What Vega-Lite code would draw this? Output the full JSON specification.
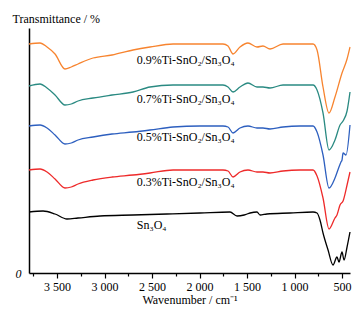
{
  "$schema": "https://vega.github.io/schema/vega-lite/v6.json",
  "width": 321,
  "height": 245,
  "autosize": "none",
  "padding": {"left": 29, "top": 28, "right": 13, "bottom": 44},
  "background": "white",
  "config": {"view": {"stroke": null}, "font": "Liberation Serif"},
  "datasets": {
    "spectra": [
      {"s": "0.9", "wn": 3795, "t": 229}, {"s": "0.9", "wn": 3679, "t": 230}, {"s": "0.9", "wn": 3605, "t": 226}, {"s": "0.9", "wn": 3521, "t": 219}, {"s": "0.9", "wn": 3416, "t": 204}, {"s": "0.9", "wn": 3350, "t": 206}, {"s": "0.9", "wn": 3279, "t": 209}, {"s": "0.9", "wn": 3121, "t": 215}, {"s": "0.9", "wn": 2921, "t": 218}, {"s": "0.9", "wn": 2700, "t": 223}, {"s": "0.9", "wn": 2521, "t": 226}, {"s": "0.9", "wn": 2279, "t": 229}, {"s": "0.9", "wn": 1995, "t": 229}, {"s": "0.9", "wn": 1753, "t": 229}, {"s": "0.9", "wn": 1700, "t": 227}, {"s": "0.9", "wn": 1647, "t": 219}, {"s": "0.9", "wn": 1574, "t": 226}, {"s": "0.9", "wn": 1490, "t": 230}, {"s": "0.9", "wn": 1395, "t": 226}, {"s": "0.9", "wn": 1332, "t": 227}, {"s": "0.9", "wn": 1258, "t": 224}, {"s": "0.9", "wn": 1121, "t": 229}, {"s": "0.9", "wn": 942, "t": 229}, {"s": "0.9", "wn": 805, "t": 229}, {"s": "0.9", "wn": 763, "t": 223}, {"s": "0.9", "wn": 700, "t": 186}, {"s": "0.9", "wn": 637, "t": 160}, {"s": "0.9", "wn": 574, "t": 176}, {"s": "0.9", "wn": 500, "t": 200}, {"s": "0.9", "wn": 447, "t": 214}, {"s": "0.9", "wn": 416, "t": 226},

      {"s": "0.7", "wn": 3795, "t": 187}, {"s": "0.7", "wn": 3679, "t": 189}, {"s": "0.7", "wn": 3605, "t": 185}, {"s": "0.7", "wn": 3521, "t": 178}, {"s": "0.7", "wn": 3416, "t": 168}, {"s": "0.7", "wn": 3350, "t": 169}, {"s": "0.7", "wn": 3279, "t": 172}, {"s": "0.7", "wn": 3121, "t": 175}, {"s": "0.7", "wn": 2921, "t": 178}, {"s": "0.7", "wn": 2700, "t": 181}, {"s": "0.7", "wn": 2521, "t": 186}, {"s": "0.7", "wn": 2279, "t": 188}, {"s": "0.7", "wn": 1995, "t": 188}, {"s": "0.7", "wn": 1753, "t": 188}, {"s": "0.7", "wn": 1700, "t": 186}, {"s": "0.7", "wn": 1647, "t": 181}, {"s": "0.7", "wn": 1574, "t": 186}, {"s": "0.7", "wn": 1490, "t": 190}, {"s": "0.7", "wn": 1395, "t": 186}, {"s": "0.7", "wn": 1332, "t": 186}, {"s": "0.7", "wn": 1258, "t": 185}, {"s": "0.7", "wn": 1121, "t": 188}, {"s": "0.7", "wn": 942, "t": 188}, {"s": "0.7", "wn": 805, "t": 188}, {"s": "0.7", "wn": 763, "t": 183}, {"s": "0.7", "wn": 700, "t": 160}, {"s": "0.7", "wn": 637, "t": 123}, {"s": "0.7", "wn": 574, "t": 133}, {"s": "0.7", "wn": 521, "t": 148}, {"s": "0.7", "wn": 489, "t": 152}, {"s": "0.7", "wn": 447, "t": 162}, {"s": "0.7", "wn": 416, "t": 181},

      {"s": "0.5", "wn": 3795, "t": 147}, {"s": "0.5", "wn": 3679, "t": 148}, {"s": "0.5", "wn": 3605, "t": 145}, {"s": "0.5", "wn": 3521, "t": 138}, {"s": "0.5", "wn": 3416, "t": 129}, {"s": "0.5", "wn": 3350, "t": 130}, {"s": "0.5", "wn": 3279, "t": 133}, {"s": "0.5", "wn": 3121, "t": 136}, {"s": "0.5", "wn": 2921, "t": 139}, {"s": "0.5", "wn": 2700, "t": 141}, {"s": "0.5", "wn": 2521, "t": 143}, {"s": "0.5", "wn": 2279, "t": 146}, {"s": "0.5", "wn": 1995, "t": 147}, {"s": "0.5", "wn": 1753, "t": 147}, {"s": "0.5", "wn": 1700, "t": 146}, {"s": "0.5", "wn": 1647, "t": 140}, {"s": "0.5", "wn": 1574, "t": 145}, {"s": "0.5", "wn": 1490, "t": 147}, {"s": "0.5", "wn": 1395, "t": 145}, {"s": "0.5", "wn": 1332, "t": 145}, {"s": "0.5", "wn": 1258, "t": 144}, {"s": "0.5", "wn": 1121, "t": 146}, {"s": "0.5", "wn": 942, "t": 147}, {"s": "0.5", "wn": 805, "t": 147}, {"s": "0.5", "wn": 763, "t": 141}, {"s": "0.5", "wn": 700, "t": 118}, {"s": "0.5", "wn": 637, "t": 85}, {"s": "0.5", "wn": 574, "t": 95}, {"s": "0.5", "wn": 532, "t": 106}, {"s": "0.5", "wn": 511, "t": 111}, {"s": "0.5", "wn": 500, "t": 113}, {"s": "0.5", "wn": 489, "t": 120}, {"s": "0.5", "wn": 458, "t": 118}, {"s": "0.5", "wn": 416, "t": 148},

      {"s": "0.3", "wn": 3795, "t": 103}, {"s": "0.3", "wn": 3679, "t": 104}, {"s": "0.3", "wn": 3605, "t": 101}, {"s": "0.3", "wn": 3521, "t": 94}, {"s": "0.3", "wn": 3416, "t": 85}, {"s": "0.3", "wn": 3350, "t": 86}, {"s": "0.3", "wn": 3279, "t": 89}, {"s": "0.3", "wn": 3121, "t": 93}, {"s": "0.3", "wn": 2921, "t": 96}, {"s": "0.3", "wn": 2700, "t": 98}, {"s": "0.3", "wn": 2521, "t": 100}, {"s": "0.3", "wn": 2279, "t": 103}, {"s": "0.3", "wn": 1995, "t": 103}, {"s": "0.3", "wn": 1753, "t": 103}, {"s": "0.3", "wn": 1700, "t": 102}, {"s": "0.3", "wn": 1647, "t": 96}, {"s": "0.3", "wn": 1574, "t": 101}, {"s": "0.3", "wn": 1490, "t": 103}, {"s": "0.3", "wn": 1395, "t": 101}, {"s": "0.3", "wn": 1332, "t": 101}, {"s": "0.3", "wn": 1258, "t": 100}, {"s": "0.3", "wn": 1121, "t": 102}, {"s": "0.3", "wn": 942, "t": 103}, {"s": "0.3", "wn": 805, "t": 103}, {"s": "0.3", "wn": 763, "t": 97}, {"s": "0.3", "wn": 700, "t": 75}, {"s": "0.3", "wn": 637, "t": 44}, {"s": "0.3", "wn": 574, "t": 55}, {"s": "0.3", "wn": 553, "t": 58}, {"s": "0.3", "wn": 521, "t": 68}, {"s": "0.3", "wn": 489, "t": 72}, {"s": "0.3", "wn": 447, "t": 88}, {"s": "0.3", "wn": 416, "t": 101},

      {"s": "0", "wn": 3795, "t": 61}, {"s": "0", "wn": 3647, "t": 62}, {"s": "0", "wn": 3521, "t": 59}, {"s": "0", "wn": 3395, "t": 54}, {"s": "0", "wn": 3279, "t": 55}, {"s": "0", "wn": 3047, "t": 57}, {"s": "0", "wn": 2700, "t": 58}, {"s": "0", "wn": 2342, "t": 59}, {"s": "0", "wn": 1995, "t": 60}, {"s": "0", "wn": 1679, "t": 61}, {"s": "0", "wn": 1605, "t": 57}, {"s": "0", "wn": 1530, "t": 58}, {"s": "0", "wn": 1468, "t": 60}, {"s": "0", "wn": 1395, "t": 61}, {"s": "0", "wn": 1363, "t": 58}, {"s": "0", "wn": 1290, "t": 59}, {"s": "0", "wn": 1047, "t": 60}, {"s": "0", "wn": 805, "t": 61}, {"s": "0", "wn": 763, "t": 60}, {"s": "0", "wn": 732, "t": 53}, {"s": "0", "wn": 700, "t": 40}, {"s": "0", "wn": 647, "t": 23}, {"s": "0", "wn": 595, "t": 8}, {"s": "0", "wn": 553, "t": 16}, {"s": "0", "wn": 532, "t": 11}, {"s": "0", "wn": 500, "t": 21}, {"s": "0", "wn": 479, "t": 13}, {"s": "0", "wn": 447, "t": 26}, {"s": "0", "wn": 416, "t": 41}
    ],
    "labels": [
      {"label": "0.9%Ti-SnO₂/Sn₃O₄", "wn": 2660, "t": 213},
      {"label": "0.7%Ti-SnO₂/Sn₃O₄", "wn": 2660, "t": 174},
      {"label": "0.5%Ti-SnO₂/Sn₃O₄", "wn": 2660, "t": 136},
      {"label": "0.3%Ti-SnO₂/Sn₃O₄", "wn": 2660, "t": 91},
      {"label": "Sn₃O₄", "wn": 2660, "t": 48}
    ]
  },
  "resolve": {"axis": {"x": "independent"}},
  "layer": [
    {
      "data": {"name": "spectra"},
      "mark": {"type": "line", "strokeWidth": 1.3, "interpolate": "monotone"},
      "encoding": {
        "x": {
          "field": "wn", "type": "quantitative",
          "scale": {"domain": [3795, 416], "nice": false, "zero": false},
          "axis": {
            "orient": "bottom",
            "values": [3500, 3000, 2500, 2000, 1500, 1000, 500],
            "labelExpr": "replace(format(datum.value, ','), ',', ' ')",
            "tickSize": 5,
            "tickColor": "black", "tickWidth": 1.2, "domainColor": "black", "domainWidth": 1.5,
            "labelColor": "black", "labelFontSize": 12, "labelFont": "Liberation Serif", "labelPadding": 3,
            "labelOverlap": false, "labelFlush": false,
            "grid": false,
            "title": "Wavenumber / cm⁻¹", "titleFont": "Liberation Serif", "titleFontSize": 12,
            "titleFontWeight": "normal", "titleColor": "black", "titlePadding": 2
          }
        },
        "y": {
          "field": "t", "type": "quantitative",
          "scale": {"domain": [0, 245], "nice": false},
          "axis": {
            "values": [0], "ticks": false, "tickSize": 0, "grid": false,
            "labelFontStyle": "italic", "labelFontSize": 12, "labelFont": "Liberation Serif",
            "labelColor": "black", "labelPadding": 8,
            "domainColor": "black", "domainWidth": 1.5,
            "title": "Transmittance / %", "titleAngle": 0, "titleAlign": "left", "titleBaseline": "middle",
            "titleX": -17, "titleY": -10, "titleFont": "Liberation Serif", "titleFontSize": 12,
            "titleFontWeight": "normal", "titleColor": "black"
          }
        },
        "color": {
          "field": "s", "type": "nominal",
          "scale": {"domain": ["0.9", "0.7", "0.5", "0.3", "0"], "range": ["#f7842f", "#2a8a82", "#2d5fbf", "#ee2a2a", "#000000"]},
          "legend": null
        },
        "order": {"field": "wn", "sort": "descending"}
      }
    },
    {
      "data": {"name": "labels"},
      "mark": {"type": "text", "align": "left", "baseline": "middle", "fontSize": 12, "font": "Liberation Serif", "color": "black"},
      "encoding": {
        "x": {"field": "wn", "type": "quantitative", "axis": null},
        "y": {"field": "t", "type": "quantitative"},
        "text": {"field": "label"}
      }
    },
    {
      "mark": {"type": "point", "shape": "triangle-up", "filled": true, "color": "black", "size": 25, "opacity": 1},
      "encoding": {
        "x": {
          "datum": 3795, "type": "quantitative",
          "axis": {
            "orient": "bottom",
            "values": [3750, 3250, 2750, 2250, 1750, 1250, 750],
            "labels": false, "tickSize": 3, "tickColor": "black", "tickWidth": 1.2,
            "domain": false, "grid": false, "title": null
          }
        },
        "y": {"datum": 245, "type": "quantitative"}
      }
    }
  ]
}
